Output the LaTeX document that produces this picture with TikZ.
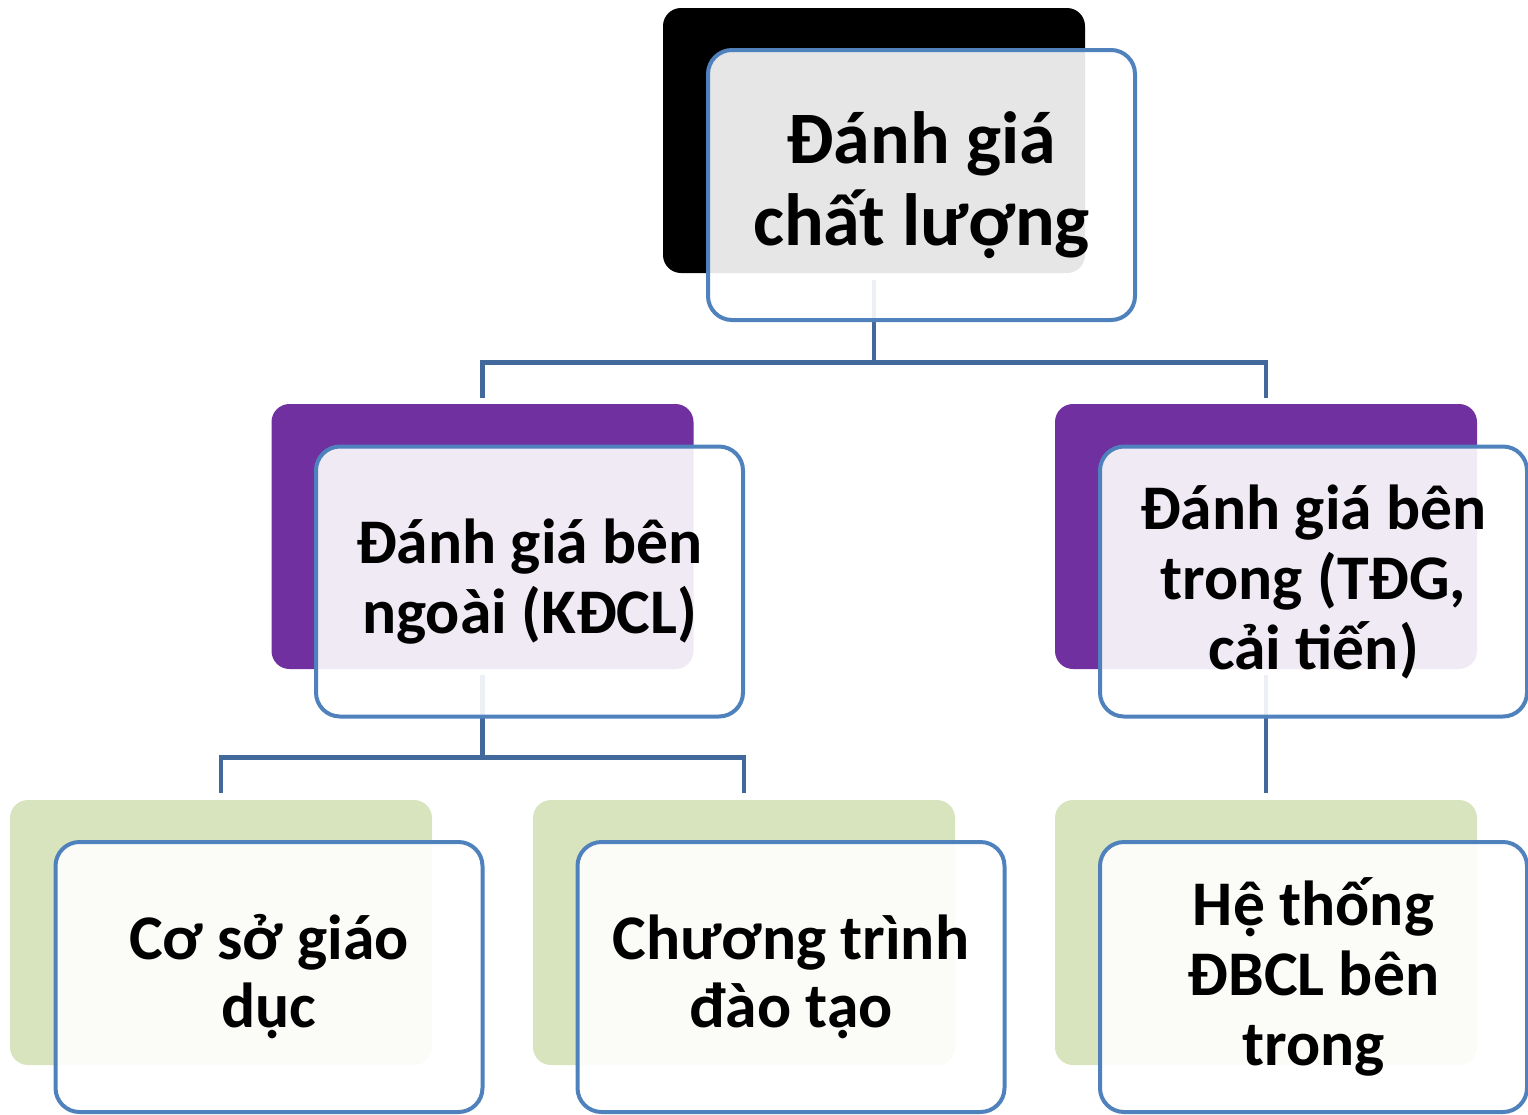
\documentclass[tikz,border=0pt]{standalone}
\usepackage{fontspec}
\setmainfont{Carlito}
\usepackage{tikz}
\definecolor{boxline}{HTML}{4F81BD}
\definecolor{linkline}{HTML}{41699C}
\definecolor{purp}{HTML}{7030A0}
\definecolor{leaf}{HTML}{D7E4BD}
\tikzset{
  back/.style={rounded corners=9pt, inner sep=0pt, minimum width=211pt, minimum height=132.5pt},
  front/.style={draw=boxline, line width=2pt, fill=white, fill opacity=0.9, text opacity=1,
    rounded corners=12pt, inner sep=0pt, minimum width=213.5pt, minimum height=135pt,
    align=center, font=\bfseries\fontsize{31.8}{35}\selectfont},
  link/.style={draw=linkline, line width=2.2pt},
}

\begin{document}
\begin{tikzpicture}
      \useasboundingbox (0,0) rectangle (764pt,-557.5pt);
      \node[back, fill=black] (topb) at (437pt,-70.25pt) {};
      \node[back, fill=purp] (midLb) at (241.25pt,-268.25pt) {};
      \node[back, fill=purp] (midRb) at (633pt,-268.25pt) {};
      \node[back, fill=leaf] (botLb) at (110.5pt,-466.25pt) {};
      \node[back, fill=leaf] (botMb) at (372pt,-466.25pt) {};
      \node[back, fill=leaf] (botRb) at (633pt,-466.25pt) {};
      \coordinate (busT) at ([yshift=-44.5pt]topb.south);
      \coordinate (busL) at ([yshift=-44pt]midLb.south);
      \draw[link] ([yshift=-3.5pt]topb.south) -- (busT);
      \draw[link] (busT) -| ([yshift=3pt]midLb.north);
      \draw[link] (busT) -| ([yshift=3pt]midRb.north);
      \draw[link] ([yshift=-3pt]midLb.south) -- (busL);
      \draw[link] (busL) -| ([yshift=3.5pt]botLb.north);
      \draw[link] (busL) -| ([yshift=3.5pt]botMb.north);
      \draw[link] ([yshift=-3pt]midRb.south) -- ([yshift=3.5pt]botRb.north);
      \node[front, font=\bfseries\fontsize{37}{41}\selectfont] (top) at ([xshift=23.75pt,yshift=-22.25pt]topb.center) {Đánh giá\\chất lượng};
      \node[front] (midL) at ([xshift=23.5pt,yshift=-22.5pt]midLb.center) {Đánh giá bên\\ngoài (KĐCL)};
      \node[front] (midR) at ([xshift=23.75pt,yshift=-22.5pt]midRb.center) {Đánh giá bên\\trong (TĐG,\\cải tiến)};
      \node[front, font=\bfseries\fontsize{31.8}{34}\selectfont] (botL) at ([xshift=24pt,yshift=-22.25pt]botLb.center) {Cơ sở giáo\\dục};
      \node[front, font=\bfseries\fontsize{31.8}{34}\selectfont] (botM) at ([xshift=23.5pt,yshift=-22.25pt]botMb.center) {Chương trình\\đào tạo};
      \node[front] (botR) at ([xshift=23.75pt,yshift=-22.25pt]botRb.center) {Hệ thống\\ĐBCL bên\\trong};
    \end{tikzpicture}
\end{document}
